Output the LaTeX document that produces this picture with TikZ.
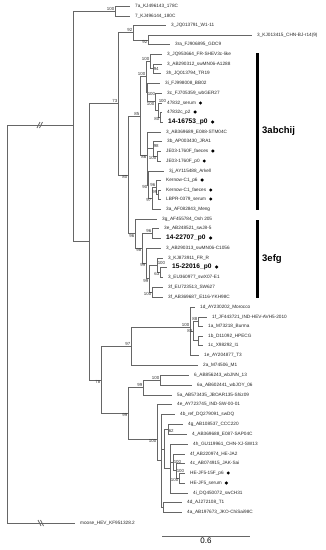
\documentclass[tikz,border=0pt]{standalone}
\usepackage{fontspec}
\setmainfont{Liberation Sans}
\usepackage{tikz}
\usetikzlibrary{positioning,calc}

\begin{document}
\begin{tikzpicture}[x=1pt,y=-1pt,
    branch/.style={draw=black!60,line width=0.7pt},
    leaf/.style={anchor=west,inner sep=0pt,xshift=5pt,font=\fontsize{4.7}{5}\selectfont,text=black!85},
    strain/.style={leaf,font=\fontsize{6.6}{7}\selectfont\bfseries,text=black},
    boot/.style={inner sep=0.6pt,font=\fontsize{4.4}{5}\selectfont,text=black!80},
    dot/.style={circle,fill=black,inner sep=0pt,minimum size=3.4pt},
    clade/.style={anchor=west,inner sep=0pt,font=\fontsize{9.5}{10}\selectfont\bfseries}]

    \useasboundingbox (0,0) rectangle (326,550);

    % Reference strains
    \foreach \nm/\x/\y/\txt in {
        l7a/130/6/7a\_KJ496143\_178C, l7b/130/16/7\_KJ496144\_180C,
        lw11/166/25/3\_JQ013791\_W1-11, lbj/252/35/3\_KJ013415\_CHN-BJ-r14(9),
        lgdc/170/44/3ra\_FJ906895\_GDC9, lfrs/162/54/3\_JQ953664\_FR-SHEV3c-like,
        lmna/162/64/3\_AB290312\_swMN06-A1288, ltr/161/73/3h\_JQ013794\_TR19,
        lbb/160/83/3i\_FJ998008\_BB02, lger/162/93/3c\_FJ705359\_wbGER27,
        lstm/161/132/3\_AB369689\_E088-STM04C, ljra/162/141/3b\_AP003430\_JRA1,
        lark/164/171/3j\_AY115488\_Arkell, lmeng/161/209/3a\_AF082843\_Meng,
        losh/157/219/3g\_AF455784\_Osh 205, lswj/159/228/3e\_AB248521\_swJ8-5,
        lmnc/161/248/3\_AB290313\_swMN06-C1056, lfrr/163/258/3\_KJ873911\_FR\_R,
        lswx/163/277/3\_EU360977\_swX07-E1, lsw6/163/287/3f\_EU723513\_SW627,
        lykh/163/297/3f\_AB369687\_E116-YKH98C, lmor/195/307/1d\_AY230202\_Morocco,
        lind/207/317/1f\_JF443721\_IND-HEV-AVH5-2010, lbur/203/326/1a\_M73218\_Burma,
        lhpe/203/336/1b\_D11092\_HPECG, li1/203/345/1c\_X98292\_I1,
        lt3/199/355/1e\_AY204877\_T3, lm1/198/365/2a\_M74506\_M1,
        ljnn/189/375/6\_AB856243\_wbJNN\_13, ljoy/192/385/6a\_AB602441\_wbJOY\_06,
        lshiz/172/395/5a\_AB573435\_JBOAR135-Shiz09, lisw/172/404/4e\_AY723745\_IND-SW-00-01,
        ldq/175/414/4b\_ref\_DQ279091\_swDQ, lccc/183/424/4g\_AB108537\_CCC220,
        lsap/187/434/4\_AB369688\_E087-SAP04C, lxj/188/444/4h\_GU119961\_CHN-XJ-SW13,
        lja2/185/454/4f\_AB220974\_HE-JA2, ljak/185/463/4c\_AB074915\_JAK-Sai,
        lch31/188/493/4i\_DQ450072\_swCH31, lt1/182/502/4d\_AJ272108\_T1,
        ljko/182/512/4a\_AB197673\_JKO-ChiSai98C, lmoose/75/523/moose\_HEV\_KF951328.2} {
        \coordinate (\nm) at (\x,\y);
        \node[leaf] (t\nm) at (\nm) {\txt};
    }
    % Sequenced samples
    \foreach \nm/\x/\y/\txt in {
        s47s/162/103/47832\_serum, s47p/162/112/47832c\_p2,
        sjef/161/151/JE03-1760F\_faeces, sjep/161/161/JE03-1760F\_p0,
        skp6/161/180/Kernow-C1\_p6, skf/161/190/Kernow-C1\_faeces,
        slb/161/199/LBPR-0379\_serum, shep/185/473/HE-JF5-15F\_p6,
        shes/185/483/HE-JF5\_serum} {
        \coordinate (\nm) at (\x,\y);
        \node[leaf] (t\nm) at (\nm) {\txt};
        \node[dot,right=2.5pt of t\nm] {};
    }
    \foreach \nm/\x/\y/\txt in {b1416/163/122/14-16753\_p0, b1422/161/238/14-22707\_p0,
        b1522/167/267/15-22016\_p0} {
        \coordinate (\nm) at (\x,\y);
        \node[strain] (t\nm) at (\nm) {\txt};
        \node[dot,right=3pt of t\nm] {};
    }

    % Internal nodes
    \foreach \nm/\x/\y in {root/7/324, ntop/73/125, n7/115/11, ng3/89/241,
        n73/118/103, n92a/133/32, n92b/148/40, n80/128/175, n85/140/116,
        na100/146/76, njq/150/61, n94/153/68.5, n3i/147/92, n3c/155/101.5,
        n47/158/110, np/160/117, n86/147/155, nje98/153/148, nje/157/156,
        n90/148/185, n97k/152/198, n96k/156/187, n99k/158/194.5,
        n96/135/233.5, n98/142/248, n96b/152/233, n99a/146/263, n99b/149/278.5,
        nc/157/265, n63/160/272, nf3/152/292, n78/101/380, n97/131/346,
        n1/190/327, n83/193/331, n88/198/321.5, n1bc/198/340.5, n99c/128/413,
        n65/143/387.5, n6/160/380, n4/157/439, nb4/161/460, nc4/164/449,
        n62/168/429, nd4/170/468, nf/173/462, ng/176/470.5, nhe/179/478, ne4/163/507} {
        \coordinate (\nm) at (\x,\y);
    }

    % Branches
    \foreach \p/\c in {ntop/n7, ntop/ng3, n7/l7a, n7/l7b, ng3/n73, ng3/n78,
        n73/n92a, n73/n80, n92a/lw11, n92a/n92b, n92b/lbj, n92b/lgdc,
        n80/n85, n80/n96, n85/na100, n85/n86, na100/njq, na100/n3i,
        njq/lfrs, njq/n94, n94/lmna, n94/ltr, n3i/lbb, n3i/n3c, n3c/lger, n3c/n47,
        n47/s47s, n47/np, np/s47p, np/b1416, n86/lstm, n86/nje98, n86/n90,
        nje98/ljra, nje98/nje, nje/sjef, nje/sjep, n90/lark, n90/n97k,
        n97k/n96k, n97k/lmeng, n96k/skp6, n96k/n99k, n99k/skf, n99k/slb,
        n96/losh, n96/n98, n98/n96b, n98/n99a, n96b/lswj, n96b/b1422,
        n99a/lmnc, n99a/n99b, n99b/nc, n99b/nf3, nc/lfrr, nc/n63, n63/b1522,
        n63/lswx, nf3/lsw6, nf3/lykh, n78/n97, n78/n99c, n97/n1, n97/lm1,
        n1/lmor, n1/n83, n1/lt3, n83/n88, n83/n1bc, n88/lind, n88/lbur,
        n1bc/lhpe, n1bc/li1, n99c/n65, n99c/n4, n65/n6, n65/lshiz, n6/ljnn, n6/ljoy,
        n4/lisw, n4/nb4, nb4/ldq, nb4/nc4, nb4/ne4, nc4/n62, nc4/nd4,
        n62/lccc, n62/lsap, nd4/lxj, nd4/nf, nd4/lch31, nf/lja2, nf/ng,
        ng/ljak, ng/nhe, nhe/shep, nhe/shes, ne4/lt1, ne4/ljko} {
        \draw[branch] (\p) |- (\c);
    }

    % Root with broken branches
    \draw[branch] (root) |- (ntop);
    \draw[branch] (root) |- (lmoose);
    \coordinate (bk1) at ($(root |- ntop)!0.5!(ntop)$);
    \coordinate (bk2) at ($(root |- lmoose)!0.5!(lmoose)$);
    \draw[branch] (bk1) ++(-3,3) -- ++(3,-6) (bk1) ++(-0.5,3) -- ++(3,-6);
    \draw[branch] (bk2) ++(-3,-3) -- ++(3,6) (bk2) ++(-0.5,-3) -- ++(3,6);

    % Bootstrap values
    \foreach \nm/\v/\a in {n7/100/south east, n73/73/south east, n92a/92/south east,
        n92b/92/north east, njq/100/south east, n94/94/west, na100/100/south east,
        n3i/100/north west, n3c/100/north east, np/80/north east, n85/85/south east,
        n86/86/north east, nje98/98/south west, nje/100/north east, n90/90/north east,
        n96k/96/south east, n99k/99/south east, n97k/97/north east, n80/80/north east,
        n96/96/north east, n98/98/north east, n96b/96/south east, n99a/99/north east,
        n99b/99/north east, nc/100/south west, n63/63/north east, nf3/100/north east,
        n1/100/south east, n88/88/south east, n83/83/east, n97/97/south east,
        n78/78/north east, n6/100/south east, n65/99/south east, n99c/99/north east,
        n4/100/north east, n62/62/north west, nf/100/west, ng/100/west, nhe/100/north east} {
        \node[boot,anchor=\a] at (\nm) {\v};
    }
    \node[boot,anchor=south west] at (n47 |- s47s) {100};

    % Clade bars
    \coordinate (ca1) at (257,53);
    \coordinate (ca2) at (257,210);
    \coordinate (ce1) at (257,220);
    \coordinate (ce2) at (257,298);
    \draw[line width=3pt] (ca1) -- (ca2);
    \draw[line width=3pt] (ce1) -- (ce2);
    \node[clade] (g3a) at ($(ca1)!0.5!(ca2)+(5,0)$) {3abchij};
    \node[clade] (g3e) at ($(ce1)!0.5!(ce2)+(5,0)$) {3efg};

    % Scale bar
    \coordinate (sb1) at (162,536);
    \coordinate (sb2) at (250,536);
    \draw[branch] (sb1) -- (sb2) node[midway,below=2pt,inner sep=0pt,font=\fontsize{8}{9}\selectfont] {0.6};
\end{tikzpicture}
\end{document}
